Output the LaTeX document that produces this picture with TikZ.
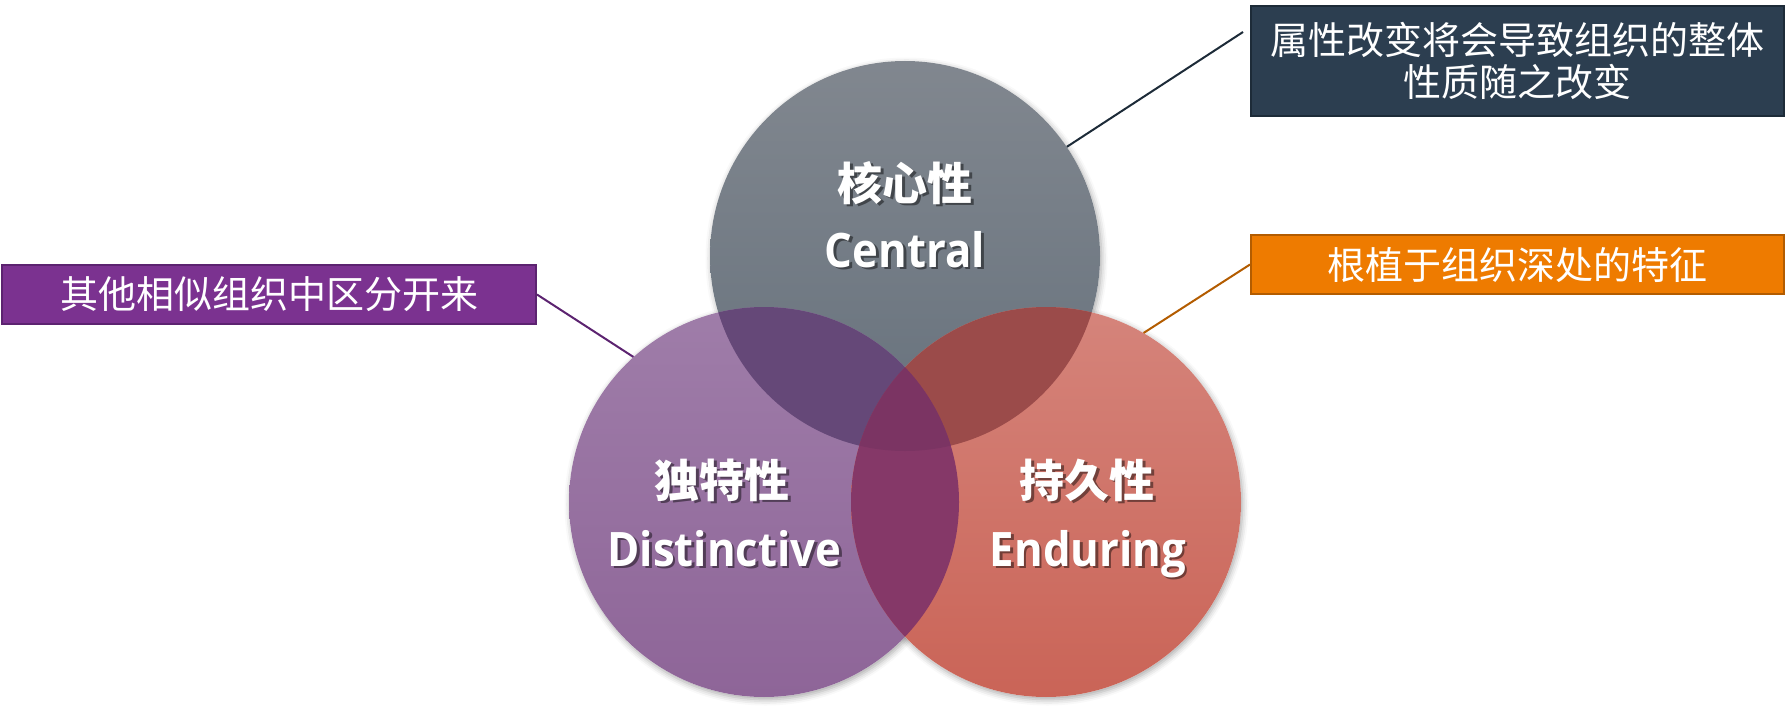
\documentclass[tikz,border=0pt]{standalone}
\usepackage{fontspec}
\usepackage{graphicx}
\newfontfamily\cjk{Noto Sans CJK SC}
\newfontfamily\latb{Open Sans}
\usetikzlibrary{shadows.blur}
\definecolor{topA}{HTML}{81878F}
\definecolor{topB}{HTML}{66717C}
\definecolor{leftA}{HTML}{9F7DA9}
\definecolor{leftB}{HTML}{8E6598}
\definecolor{rightA}{HTML}{D5847B}
\definecolor{rightB}{HTML}{CA6457}
\definecolor{cTL}{HTML}{654878}
\definecolor{cTR}{HTML}{9B4B4A}
\definecolor{cLR}{HTML}{853868}
\definecolor{cTLR}{HTML}{7B3463}
\definecolor{darkfill}{HTML}{2C3E50}
\definecolor{darkline}{HTML}{1D2B38}
\definecolor{purfill}{HTML}{7B3290}
\definecolor{purline}{HTML}{5C2370}
\definecolor{orafill}{HTML}{EE7B00}
\definecolor{oraline}{HTML}{B35C00}
\newcommand{\narrowlat}[1]{\scalebox{0.92}[1]{#1}}
\tikzset{
  ring/.style={circle, minimum size=390pt, inner sep=0pt},
  infobox/.style={draw, line width=2pt, text=white, inner sep=0pt, anchor=north west,
    font=\cjk\fontsize{38}{42}\selectfont, align=center},
  conn/.style={line width=2pt},
  cjktitle/.style={text=white, inner sep=0pt, font=\cjk\bfseries\fontsize{45}{50}\selectfont},
  lattitle/.style={text=white, inner sep=0pt, anchor=base, font=\latb\bfseries\fontsize{47.5}{50}\selectfont},
  shadowtext/.style={text=black, text opacity=0.45},
}
\begin{document}
\begin{tikzpicture}[x=1pt,y=-1pt]
\useasboundingbox (0,0) rectangle (1785,709);
% circle anchors
\node[ring] (ctop) at (905,256) {};
\node[ring] (cleft) at (764,502) {};
\node[ring] (cright) at (1046,502) {};
% shadows
\foreach \c in {ctop,cleft,cright}
  \fill[white, blur shadow={shadow xshift=1.5pt, shadow yshift=-2.5pt, shadow blur radius=6pt, shadow opacity=35}] (\c.center) circle[radius=195pt];
% circle fills
\shade[top color=topA, bottom color=topB] (ctop.center) circle[radius=195pt];
\shade[top color=leftA, bottom color=leftB] (cleft.center) circle[radius=195pt];
\shade[top color=rightA, bottom color=rightB] (cright.center) circle[radius=195pt];
\begin{scope}
  \clip (ctop.center) circle[radius=195pt];
  \fill[cTL] (cleft.center) circle[radius=195pt];
  \fill[cTR] (cright.center) circle[radius=195pt];
\end{scope}
\begin{scope}
  \clip (cleft.center) circle[radius=195pt];
  \fill[cLR] (cright.center) circle[radius=195pt];
\end{scope}
\begin{scope}
  \clip (ctop.center) circle[radius=195pt];
  \clip (cleft.center) circle[radius=195pt];
  \fill[cTLR] (cright.center) circle[radius=195pt];
\end{scope}
% circle texts (with shadows)
\node[cjktitle, shadowtext] (s1) at (907.5,185.5) {核心性};
\node[cjktitle] (t1) at (905,183) {核心性};
\node[lattitle, shadowtext] (s2) at (907.5,269.5) {\narrowlat{Central}};
\node[lattitle] (t2) at (905,267) {\narrowlat{Central}};
\node[cjktitle, shadowtext] (s3) at (724.5,482.5) {独特性};
\node[cjktitle] (t3) at (722,480) {独特性};
\node[lattitle, shadowtext] (s4) at (727,568.5) {\narrowlat{Distinctive}};
\node[lattitle] (t4) at (724.5,566) {\narrowlat{Distinctive}};
\node[cjktitle, shadowtext] (s5) at (1089.5,482.5) {持久性};
\node[cjktitle] (t5) at (1087,480) {持久性};
\node[lattitle, shadowtext] (s6) at (1090.5,568.5) {\narrowlat{Enduring}};
\node[lattitle] (t6) at (1088,566) {\narrowlat{Enduring}};
% boxes
\node[infobox, fill=darkfill, draw=darkline, minimum width=533pt, minimum height=110pt] (topbox) at (1250,5)
  {属性改变将会导致组织的整体\\性质随之改变};
\node[infobox, fill=purfill, draw=purline, minimum width=534pt, minimum height=59pt] (purbox) at (1,264)
  {其他相似组织中区分开来};
\node[infobox, fill=orafill, draw=oraline, minimum width=533pt, minimum height=59pt] (orabox) at (1250,234)
  {根植于组织深处的特征};
% connectors
\coordinate (tstart) at (1243,32);
\draw[conn, darkline] (tstart) -- (ctop.34);
\draw[conn, purline] (purbox.east) -- (cleft.132);
\draw[conn, oraline] (orabox.west) -- (cright.60);
\end{tikzpicture}
\end{document}
